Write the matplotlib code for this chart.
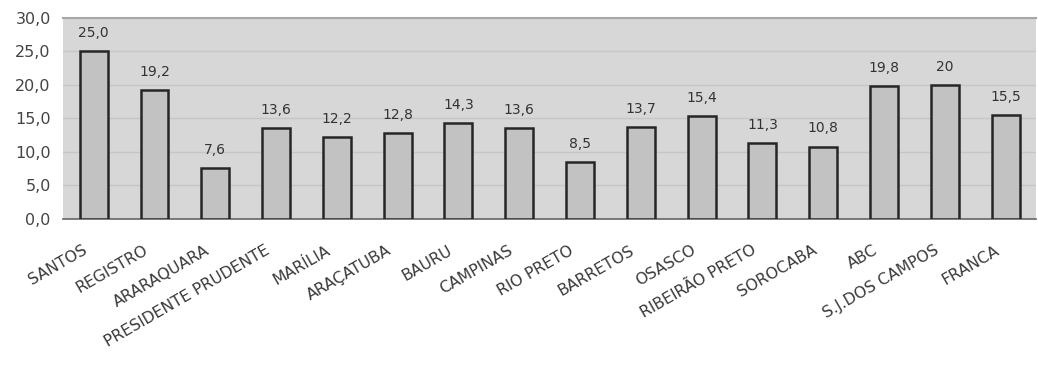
import matplotlib
matplotlib.use("Agg")
import matplotlib.pyplot as plt
import matplotlib.transforms as mtransforms
from matplotlib.ticker import FuncFormatter

# Dados por regional
regionais = ["SANTOS", "REGISTRO", "ARARAQUARA", "PRESIDENTE PRUDENTE", "MARÍLIA",
             "ARAÇATUBA", "BAURU", "CAMPINAS", "RIO PRETO", "BARRETOS", "OSASCO",
             "RIBEIRÃO PRETO", "SOROCABA", "ABC", "S.J.DOS CAMPOS", "FRANCA"]
valores = [25.0, 19.2, 7.6, 13.6, 12.2, 12.8, 14.3, 13.6, 8.5, 13.7, 15.4,
           11.3, 10.8, 19.8, 20.0, 15.5]
rotulos = ["25,0", "19,2", "7,6", "13,6", "12,2", "12,8", "14,3", "13,6", "8,5",
           "13,7", "15,4", "11,3", "10,8", "19,8", "20", "15,5"]

plt.rcParams["font.family"] = ["DejaVu Sans"]

fig = plt.figure(figsize=(10.38, 3.65), dpi=100)
ax = fig.add_axes([0.061, 0.40, 0.937, 0.551])

x = range(len(regionais))
ax.bar(x, valores, width=0.46, color="#c2c2c2", edgecolor="#262626", linewidth=1.8, zorder=3)

for i, (v, r) in enumerate(zip(valores, rotulos)):
    ax.text(i, v + 2.7, r, ha="center", va="center", fontsize=10, color="#333333")

ax.set_facecolor("#d7d7d7")
ax.set_ylim(0, 30)
ax.set_xlim(-0.5, len(regionais) - 0.5)
ax.set_yticks(range(0, 31, 5))
ax.yaxis.set_major_formatter(FuncFormatter(lambda v, p: f"{v:.1f}".replace(".", ",")))
ax.grid(axis="y", color="#c6c6c6", linewidth=1.0, zorder=0)

ax.set_xticks(list(x))
ax.set_xticklabels(regionais, rotation=30, ha="right", rotation_mode="anchor",
                   fontsize=11.3, color="#3a3a3a")
ax.tick_params(axis="x", length=0, pad=17)
ax.tick_params(axis="y", length=0, labelsize=11.5, colors="#444444", pad=9)

# desloca os rótulos inclinados um pouco para a esquerda
desloc = mtransforms.ScaledTranslation(-8 / 72, 0, fig.dpi_scale_trans)
for lbl in ax.get_xticklabels():
    lbl.set_transform(lbl.get_transform() + desloc)

for s in ["left", "right"]:
    ax.spines[s].set_visible(False)
ax.spines["top"].set_color("#a8a8a8")
ax.spines["top"].set_linewidth(1.5)
ax.spines["bottom"].set_color("#666666")
ax.spines["bottom"].set_linewidth(1.2)

fig.savefig("out.png", dpi=100)
